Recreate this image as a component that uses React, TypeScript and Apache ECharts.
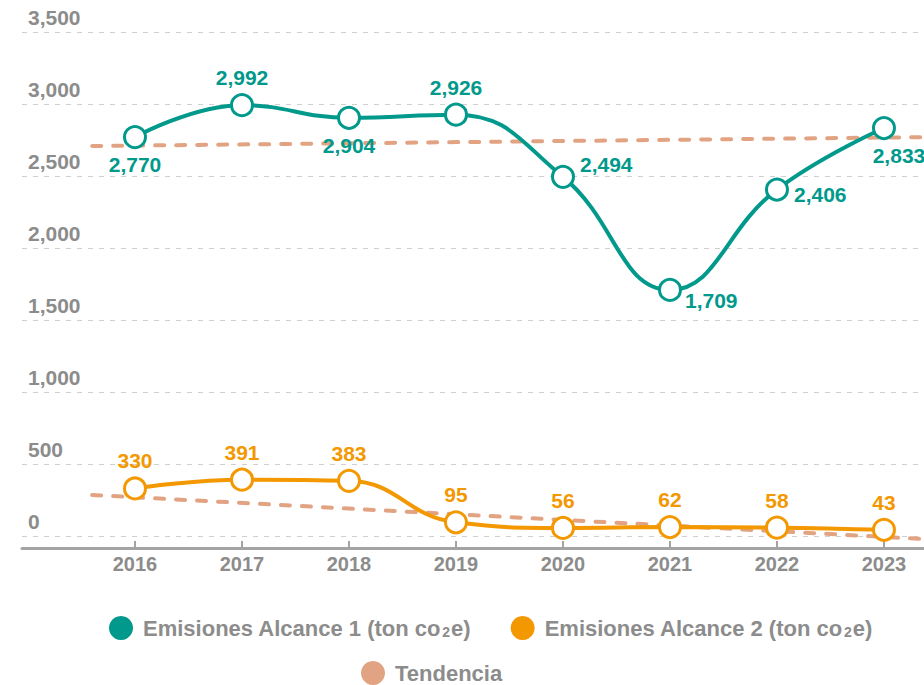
import React, { useEffect, useRef } from "react";
import * as echarts from "echarts";

const years = [2016, 2017, 2018, 2019, 2020, 2021, 2022, 2023];
const alcance1 = [2770, 2992, 2904, 2926, 2494, 1709, 2406, 2833];
const alcance2 = [330, 391, 383, 95, 56, 62, 58, 43];
const trendYears = [2015.6, 2023.75];
const trend1 = [2708, 2773];
const trend2 = [285, -36];

const NAME1 = "Emisiones Alcance 1 (ton co2e)";
const NAME2 = "Emisiones Alcance 2 (ton co2e)";
const NAME3 = "Tendencia";

const TEAL = "#00998b";
const ORANGE = "#f39800";
const SALMON = "#e2a383";
const GRAY = "#8c8c8c";
const FONT = "'Liberation Sans', Arial, Helvetica, sans-serif";

// label placement (style) for each point of series 1
const place1: { position: string; offset: [number, number] }[] = [
  { position: "bottom", offset: [0, 0] },
  { position: "top", offset: [0, 0] },
  { position: "bottom", offset: [0, 0] },
  { position: "top", offset: [0, 0] },
  { position: "right", offset: [0, -12] },
  { position: "right", offset: [-2, 11] },
  { position: "right", offset: [0, 5] },
  { position: "bottom", offset: [15, 0] },
];

export default function App() {
  const ref = useRef<HTMLDivElement>(null);
  useEffect(() => {
    if (!ref.current) return;
    const chart = echarts.init(ref.current, null, { renderer: "svg" });
    const labelBase = { show: true, fontSize: 21, fontWeight: "bold", fontFamily: FONT };
    const legendText = {
      fontSize: 22,
      fontWeight: "bold",
      color: GRAY,
      fontFamily: FONT,
      lineHeight: 22,
      padding: [0, 0, 0, 5],
      rich: {
        sub: { fontSize: 14, fontWeight: "bold", color: GRAY, fontFamily: FONT, lineHeight: 2, verticalAlign: "bottom", padding: [0, 1, 0, 1] },
      },
    };
    const fmt = (n: string) => n.replace("co2e", "co{sub|2}e");
    chart.setOption({
      animation: false,
      grid: { left: 22, top: 32, width: 942, height: 504, containLabel: false, outerBoundsMode: "none" },
      xAxis: {
        type: "value",
        min: 2014.944,
        max: 2023.748,
        offset: 12,
        axisLine: { show: true, onZero: false, lineStyle: { color: "#a3a3a3", width: 3 } },
        axisTick: { show: true, inside: true, length: 7, customValues: years, lineStyle: { color: "#a3a3a3", width: 2 } },
        axisLabel: {
          customValues: years,
          formatter: (v: number) => String(Math.round(v)),
          fontSize: 20,
          fontWeight: "bold",
          color: GRAY,
          fontFamily: FONT,
          margin: 6,
        },
        splitLine: { show: false },
      },
      yAxis: {
        type: "value",
        min: 0,
        max: 3500,
        interval: 500,
        axisLine: { show: false },
        axisTick: { show: false },
        axisLabel: {
          inside: true,
          margin: 6,
          verticalAlign: "bottom",
          padding: [0, 0, 4, 0],
          fontSize: 21,
          fontWeight: "bold",
          color: GRAY,
          fontFamily: FONT,
        },
        splitLine: { show: true, lineStyle: { color: "#cfcfcf", width: 1, type: [5, 6] } },
      },
      legend: [
        {
          data: [
            { name: NAME1, itemStyle: { color: TEAL, borderWidth: 0 } },
            { name: NAME2, itemStyle: { color: ORANGE, borderWidth: 0 } },
          ],
          left: 109,
          top: 616,
          padding: 0,
          icon: "circle",
          itemWidth: 24,
          itemHeight: 24,
          itemGap: 40,
          selectedMode: false,
          textStyle: legendText,
          formatter: fmt,
        },
        {
          data: [{ name: NAME3, itemStyle: { color: SALMON, borderWidth: 0 } }],
          left: 361,
          top: 661,
          padding: 0,
          icon: "circle",
          itemWidth: 24,
          itemHeight: 24,
          selectedMode: false,
          textStyle: legendText,
        },
      ],
      series: [
        {
          type: "line",
          name: NAME3,
          data: trendYears.map((x, i) => [x, trend1[i]]),
          symbol: "none",
          clip: false,
          silent: true,
          z: 1,
          color: SALMON,
          lineStyle: { color: SALMON, width: 4, type: [9, 12], cap: "round" },
        },
        {
          type: "line",
          name: NAME3,
          data: trendYears.map((x, i) => [x, trend2[i]]),
          symbol: "none",
          clip: false,
          silent: true,
          z: 1,
          color: SALMON,
          lineStyle: { color: SALMON, width: 4, type: [9, 12], cap: "round" },
        },
        {
          type: "line",
          name: NAME1,
          data: years.map((y, i) => ({
            value: [y, alcance1[i]],
            label: { position: place1[i].position, offset: place1[i].offset },
          })),
          smooth: 0.45,
          symbol: "circle",
          symbolSize: 21,
          z: 3,
          color: TEAL,
          itemStyle: { color: "#fff", borderColor: TEAL, borderWidth: 3 },
          lineStyle: { color: TEAL, width: 4 },
          label: { ...labelBase, color: TEAL, formatter: (p: any) => p.value[1].toLocaleString("en-US") },
          emphasis: { disabled: true },
        },
        {
          type: "line",
          name: NAME2,
          data: years.map((y, i) => [y, alcance2[i]]),
          smooth: 0.45,
          symbol: "circle",
          symbolSize: 21,
          z: 3,
          color: ORANGE,
          itemStyle: { color: "#fff", borderColor: ORANGE, borderWidth: 3 },
          lineStyle: { color: ORANGE, width: 4 },
          label: { ...labelBase, color: ORANGE, position: "top", formatter: (p: any) => p.value[1].toLocaleString("en-US") },
          emphasis: { disabled: true },
        },
      ],
    });
    return () => chart.dispose();
  }, []);
  return <div ref={ref} style={{ position: "absolute", left: 0, top: 0, width: 924, height: 685 }} />;
}
